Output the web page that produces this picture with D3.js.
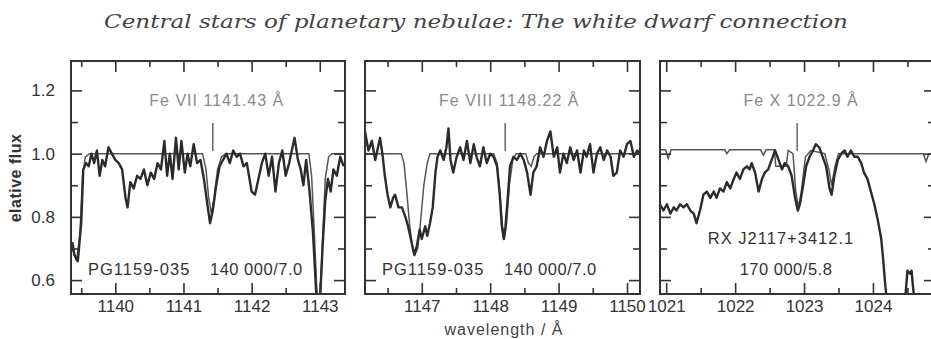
<!DOCTYPE html>
<html>
<head>
<meta charset="utf-8">
<script src="https://cdn.jsdelivr.net/npm/d3@7"></script>
<style>
  body { margin: 0; background: #fff; }
  svg { display: block; }
  .tick text { font-family: "Liberation Sans", Arial, sans-serif; font-size: 17px; fill: #333; }
</style>
</head>
<body>
<div id="wrap"></div>
<script>
// ---- data ----
const title = "Central stars of planetary nebulae: The white dwarf connection";
const yLabel = "elative flux";
const xLabel = "wavelength / Å";

const yDomain = [0.556, 1.293];
const yMajor = [0.6, 0.8, 1.0, 1.2];
const yMinor = [0.7, 0.9, 1.1];

const xDomains = [[1139.35, 1143.37], [1146.17, 1150.19], [1020.91, 1024.9]];
const xMajor = [[1140, 1141, 1142, 1143], [1147, 1148, 1149, 1150], [1021, 1022, 1023, 1024]];
const xMinor = [[1139.5, 1140.5, 1141.5, 1142.5], [1146.5, 1147.5, 1148.5, 1149.5], [1021.5, 1022.5, 1023.5, 1024.5]];

const lineLabels = ["Fe VII 1141.43 Å", "Fe VIII 1148.22 Å", "Fe X 1022.9 Å"];
const lineWaves = [1141.43, 1148.22, 1022.9];
const starNames = ["PG1159-035", "PG1159-035", "RX J2117+3412.1"];
const modelParams = ["140 000/7.0", "140 000/7.0", "170 000/5.8"];

// observed spectra [wavelength, flux]
const obs1 = [
  [1139.37,0.72],[1139.40,0.68],[1139.45,0.66],[1139.50,0.78],[1139.53,0.95],[1139.57,0.97],
  [1139.61,0.96],[1139.65,1.00],[1139.69,0.97],[1139.73,1.01],[1139.77,0.93],[1139.81,0.98],
  [1139.85,0.96],[1139.90,1.02],[1139.95,1.00],[1140.00,0.98],[1140.05,0.97],[1140.10,0.95],
  [1140.15,0.86],[1140.18,0.83],[1140.22,0.91],[1140.27,0.89],[1140.32,0.93],[1140.37,0.92],
  [1140.42,0.95],[1140.47,0.90],[1140.52,0.94],[1140.57,0.92],[1140.62,0.97],[1140.67,0.95],
  [1140.72,1.04],[1140.76,0.93],[1140.80,1.00],[1140.84,0.92],[1140.89,1.05],[1140.93,0.95],
  [1140.97,1.04],[1141.02,0.94],[1141.06,1.00],[1141.10,0.96],[1141.15,1.03],[1141.20,0.97],
  [1141.25,0.98],[1141.30,0.92],[1141.35,0.84],[1141.39,0.78],[1141.43,0.82],[1141.48,0.90],
  [1141.53,0.96],[1141.58,0.98],[1141.63,1.00],[1141.68,0.97],[1141.73,1.01],[1141.78,0.99],
  [1141.83,1.00],[1141.88,0.96],[1141.93,0.97],[1142.00,0.88],[1142.05,0.87],[1142.10,0.92],
  [1142.15,0.97],[1142.20,1.00],[1142.25,0.93],[1142.30,0.99],[1142.35,0.88],[1142.40,0.97],
  [1142.45,1.01],[1142.50,0.93],[1142.55,0.97],[1142.60,1.02],[1142.63,1.05],[1142.68,0.98],
  [1142.72,0.95],[1142.76,0.90],[1142.80,0.98],[1142.85,0.88],[1142.90,0.75],[1142.95,0.55],
  [1143.00,0.52],[1143.04,0.70],[1143.08,0.85],[1143.12,0.92],[1143.16,0.88],[1143.20,0.95],
  [1143.25,0.93],[1143.30,0.99],[1143.35,0.96]
];
const obs2 = [
  [1146.17,1.07],[1146.22,1.01],[1146.27,1.04],[1146.32,0.98],[1146.37,1.03],[1146.39,1.05],
  [1146.43,0.99],[1146.46,0.93],[1146.50,0.87],[1146.54,0.83],[1146.58,0.86],[1146.61,0.87],
  [1146.66,0.83],[1146.71,0.83],[1146.76,0.80],[1146.80,0.77],[1146.85,0.72],[1146.89,0.68],
  [1146.93,0.71],[1146.97,0.76],[1147.00,0.73],[1147.05,0.77],[1147.08,0.74],[1147.12,0.78],
  [1147.16,0.83],[1147.20,0.94],[1147.23,0.99],[1147.27,1.01],[1147.32,0.98],[1147.36,1.02],
  [1147.39,1.08],[1147.42,0.98],[1147.46,0.94],[1147.51,0.99],[1147.56,1.02],[1147.61,0.98],
  [1147.66,1.04],[1147.71,0.97],[1147.76,1.03],[1147.80,0.99],[1147.85,0.96],[1147.90,1.02],
  [1147.95,0.97],[1148.00,1.00],[1148.05,0.99],[1148.10,0.96],[1148.14,0.87],[1148.17,0.77],
  [1148.20,0.73],[1148.22,0.76],[1148.26,0.87],[1148.29,0.96],[1148.34,0.99],[1148.39,0.98],
  [1148.44,1.00],[1148.49,0.98],[1148.54,0.94],[1148.59,0.87],[1148.63,0.94],[1148.68,0.96],
  [1148.73,1.02],[1148.78,0.99],[1148.83,1.04],[1148.88,1.07],[1148.93,0.99],[1148.98,1.02],
  [1149.02,0.94],[1149.07,1.00],[1149.12,0.97],[1149.17,1.02],[1149.22,0.98],[1149.27,1.01],
  [1149.32,0.94],[1149.37,1.01],[1149.41,0.99],[1149.46,1.03],[1149.51,0.94],[1149.56,1.00],
  [1149.61,1.02],[1149.66,0.98],[1149.71,1.01],[1149.76,0.99],[1149.80,0.93],[1149.85,0.94],
  [1149.90,1.01],[1149.95,0.99],[1150.00,1.03],[1150.05,1.04],[1150.10,0.99],[1150.15,1.01],
  [1150.19,1.00]
];
const obs3 = [
  [1020.91,0.84],[1020.96,0.82],[1021.01,0.84],[1021.06,0.81],[1021.11,0.83],[1021.15,0.82],
  [1021.20,0.84],[1021.25,0.83],[1021.30,0.84],[1021.35,0.82],[1021.40,0.81],[1021.44,0.78],
  [1021.49,0.82],[1021.54,0.87],[1021.59,0.88],[1021.64,0.86],[1021.69,0.88],[1021.73,0.86],
  [1021.78,0.89],[1021.83,0.88],[1021.88,0.91],[1021.93,0.89],[1021.98,0.92],[1022.02,0.94],
  [1022.07,0.92],[1022.12,0.95],[1022.17,0.96],[1022.21,0.95],[1022.24,0.97],[1022.29,0.94],
  [1022.34,0.88],[1022.39,0.92],[1022.43,0.94],[1022.48,0.95],[1022.53,0.98],[1022.58,1.01],
  [1022.63,0.98],[1022.68,0.95],[1022.72,0.97],[1022.77,0.96],[1022.82,0.93],[1022.87,0.86],
  [1022.91,0.82],[1022.94,0.84],[1022.98,0.89],[1023.03,0.96],[1023.08,0.99],[1023.13,1.01],
  [1023.17,1.03],[1023.22,1.02],[1023.27,0.99],[1023.32,0.96],[1023.37,0.89],[1023.40,0.87],
  [1023.44,0.93],[1023.49,0.98],[1023.54,1.00],[1023.59,1.01],[1023.63,0.99],[1023.68,1.01],
  [1023.73,0.99],[1023.78,0.99],[1023.83,0.97],[1023.87,0.94],[1023.92,0.92],[1023.97,0.88],
  [1024.02,0.84],[1024.07,0.79],[1024.12,0.73],[1024.15,0.66],[1024.18,0.58],[1024.21,0.52],
  [1024.46,0.52],[1024.50,0.63],[1024.54,0.62],[1024.56,0.63],[1024.58,0.58],[1024.61,0.52],
  [1024.90,0.50]
];

// model spectra [wavelength, flux]
const mod1 = [
  [1139.35,0.71],[1139.43,0.66],[1139.48,0.74],[1139.52,0.93],[1139.56,0.99],[1139.62,1.0],
  [1141.28,1.0],[1141.33,0.95],[1141.37,0.86],[1141.41,0.81],[1141.45,0.86],[1141.50,0.95],
  [1141.56,0.99],[1141.62,1.0],[1142.84,1.0],[1142.88,0.93],[1142.92,0.75],[1142.96,0.55],
  [1143.00,0.53],[1143.04,0.72],[1143.08,0.92],[1143.13,0.99],[1143.18,1.0],[1143.37,1.0]
];
const mod2 = [
  [1146.17,1.0],[1146.70,1.0],[1146.74,0.97],[1146.78,0.88],[1146.82,0.78],[1146.86,0.71],
  [1146.90,0.68],[1146.94,0.70],[1146.98,0.78],[1147.03,0.90],[1147.08,0.97],[1147.12,1.0],
  [1148.05,1.0],[1148.10,0.97],[1148.14,0.88],[1148.18,0.77],[1148.21,0.74],[1148.24,0.78],
  [1148.28,0.90],[1148.33,0.98],[1148.38,1.0],[1148.52,1.0],[1148.56,0.97],[1148.60,0.96],
  [1148.64,0.99],[1148.68,1.0],[1150.19,1.0]
];
const mod3 = [
  [1020.91,1.012],[1020.99,1.012],[1021.03,0.985],[1021.07,1.012],[1021.85,1.012],[1021.88,1.0],
  [1021.92,1.012],[1022.37,1.012],[1022.41,0.995],[1022.45,1.012],[1022.57,1.012],[1022.59,0.96],
  [1022.74,0.96],[1022.77,1.01],[1022.84,1.0],[1022.88,0.88],[1022.92,0.83],[1022.96,0.88],
  [1023.02,0.99],[1023.10,1.01],[1023.30,1.0],[1023.36,0.95],[1023.40,0.90],[1023.45,0.96],
  [1023.50,1.0],[1024.73,1.0],[1024.77,0.975],[1024.81,1.0],[1024.90,1.0]
];

const observed = [obs1, obs2, obs3];
const models = [mod1, mod2, mod3];

// ---- layout ----
const W = 931, H = 339;
const panelLeft = [71, 365, 660];
const panelRight = [345, 640, 935];
const plotTop = 61, plotBottom = 294;

const svg = d3.select("#wrap").append("svg")
  .attr("width", W)
  .attr("height", H);

const y = d3.scaleLinear().domain(yDomain).range([plotBottom, plotTop]);

// title
svg.append("text")
  .attr("x", 476)
  .attr("y", 28)
  .attr("text-anchor", "middle")
  .attr("font-family", "'DejaVu Serif', serif")
  .attr("font-style", "italic")
  .attr("font-size", 19)
  .attr("fill", "#444")
  .attr("textLength", 744)
  .attr("lengthAdjust", "spacingAndGlyphs")
  .text(title);

// y label
svg.append("text")
  .attr("transform", "translate(21,178) rotate(-90)")
  .attr("text-anchor", "middle")
  .attr("font-family", "'Liberation Sans', Arial, sans-serif")
  .attr("font-weight", "bold")
  .attr("font-size", 16)
  .attr("letter-spacing", 0.5)
  .attr("fill", "#333")
  .text(yLabel);

// x label
svg.append("text")
  .attr("x", 504)
  .attr("y", 335)
  .attr("text-anchor", "middle")
  .attr("font-family", "'Liberation Sans', Arial, sans-serif")
  .attr("font-size", 16)
  .attr("letter-spacing", 1)
  .attr("fill", "#444")
  .text(xLabel);

const line = d3.line();

panelLeft.forEach(function(x0, i) {
  let x1 = panelRight[i];
  let x = d3.scaleLinear().domain(xDomains[i]).range([x0, x1]);
  let g = svg.append("g");

  // clip to frame
  g.append("clipPath").attr("id", "clip" + i)
    .append("rect")
    .attr("x", x0).attr("y", plotTop)
    .attr("width", x1 - x0).attr("height", plotBottom - plotTop);

  let plot = g.append("g").attr("clip-path", "url(#clip" + i + ")");

  line.x(function(d) { return x(d[0]); }).y(function(d) { return y(d[1]); });

  // model
  plot.append("path")
    .datum(models[i])
    .attr("d", line)
    .attr("fill", "none")
    .attr("stroke", "#555")
    .attr("stroke-width", 1.5);

  // observation
  plot.append("path")
    .datum(observed[i])
    .attr("d", line)
    .attr("fill", "none")
    .attr("stroke", "#2b2b2b")
    .attr("stroke-width", 2.4)
    .attr("stroke-linejoin", "round");

  // line marker
  g.append("line")
    .attr("x1", x(lineWaves[i])).attr("x2", x(lineWaves[i]))
    .attr("y1", y(1.097)).attr("y2", y(1.008))
    .attr("stroke", "#666")
    .attr("stroke-width", 1.5);

  g.append("text")
    .attr("x", x(lineWaves[i]) + 4)
    .attr("y", 106)
    .attr("text-anchor", "middle")
    .attr("font-family", "'Liberation Sans', Arial, sans-serif")
    .attr("font-size", 16)
    .attr("letter-spacing", 1)
    .attr("fill", "#8a8a8a")
    .text(lineLabels[i]);

  // star / model labels
  if (i < 2) {
    g.append("text")
      .attr("x", x0 + 17).attr("y", 275)
      .attr("font-family", "'Liberation Sans', Arial, sans-serif")
      .attr("font-size", 16.5).attr("letter-spacing", 1)
      .attr("fill", "#333")
      .text(starNames[i]);
    g.append("text")
      .attr("x", x0 + 139).attr("y", 275)
      .attr("font-family", "'Liberation Sans', Arial, sans-serif")
      .attr("font-size", 16.5).attr("letter-spacing", 0.5)
      .attr("fill", "#333")
      .text(modelParams[i]);
  } else {
    g.append("text")
      .attr("x", 781).attr("y", 244)
      .attr("text-anchor", "middle")
      .attr("font-family", "'Liberation Sans', Arial, sans-serif")
      .attr("font-size", 16.5).attr("letter-spacing", 1)
      .attr("fill", "#333")
      .text(starNames[i]);
    g.append("text")
      .attr("x", 786).attr("y", 275)
      .attr("text-anchor", "middle")
      .attr("font-family", "'Liberation Sans', Arial, sans-serif")
      .attr("font-size", 16.5).attr("letter-spacing", 0.5)
      .attr("fill", "#333")
      .text(modelParams[i]);
  }

  // axes: major ticks inward, minor shorter
  let axes = [
    [d3.axisBottom(x).tickValues(xMajor[i]).tickSize(-11).tickPadding(6).tickFormat(d3.format("d")), "translate(0," + plotBottom + ")"],
    [d3.axisBottom(x).tickValues(xMinor[i]).tickSize(-6).tickFormat(""), "translate(0," + plotBottom + ")"],
    [d3.axisTop(x).tickValues(xMajor[i]).tickSize(-11).tickFormat(""), "translate(0," + plotTop + ")"],
    [d3.axisTop(x).tickValues(xMinor[i]).tickSize(-6).tickFormat(""), "translate(0," + plotTop + ")"],
    [d3.axisLeft(y).tickValues(yMajor).tickSize(-11).tickPadding(16)
       .tickFormat(i === 0 ? d3.format(".1f") : ""), "translate(" + x0 + ",0)"],
    [d3.axisLeft(y).tickValues(yMinor).tickSize(-7).tickFormat(""), "translate(" + x0 + ",0)"],
    [d3.axisRight(y).tickValues(yMajor).tickSize(-11).tickFormat(""), "translate(" + x1 + ",0)"],
    [d3.axisRight(y).tickValues(yMinor).tickSize(-7).tickFormat(""), "translate(" + x1 + ",0)"]
  ];
  axes.forEach(function(a) {
    let ag = g.append("g").attr("transform", a[1]).call(a[0]);
    ag.select(".domain").remove();
    ag.selectAll(".tick line").attr("stroke", "#333").attr("stroke-width", 1.6);
  });

  // frame
  g.append("rect")
    .attr("x", x0).attr("y", plotTop)
    .attr("width", x1 - x0).attr("height", plotBottom - plotTop)
    .attr("fill", "none")
    .attr("stroke", "#333")
    .attr("stroke-width", 2);
});
</script>
</body>
</html>
